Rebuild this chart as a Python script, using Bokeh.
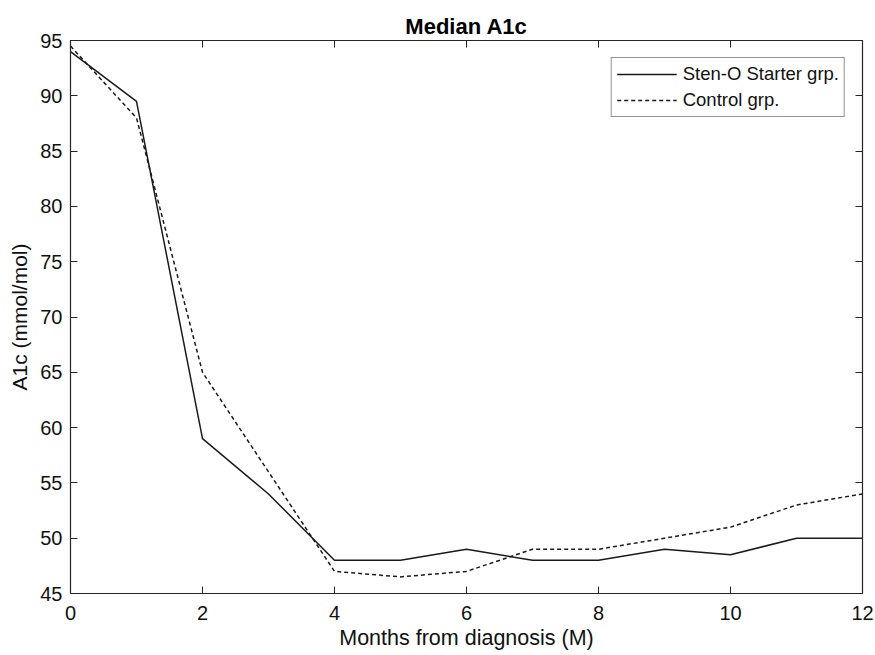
from bokeh.plotting import figure
from bokeh.models import LinearAxis, FixedTicker, Legend, LegendItem, Range1d
from bokeh.embed import file_html
from bokeh.resources import INLINE

months = [0, 1, 2, 3, 4, 5, 6, 7, 8, 9, 10, 11, 12]
sten_o = [94, 89.5, 59, 54, 48, 48, 49, 48, 48, 49, 48.5, 50, 50]
control = [94.5, 88, 65, 56, 47, 46.5, 47, 49, 49, 50, 51, 53, 54]
x_ticks = [0, 2, 4, 6, 8, 10, 12]
y_ticks = [45, 50, 55, 60, 65, 70, 75, 80, 85, 90, 95]

FONT = "Liberation Sans"
AX = "#262626"

p = figure(frame_width=792, frame_height=553, output_backend="svg", toolbar_location=None,
           x_range=Range1d(0, 12), y_range=Range1d(45, 95),
           min_border_left=70, min_border_right=13, min_border_top=40, min_border_bottom=62)
p.title.text = "Median A1c"
p.title.align = "center"
p.title.text_font = FONT
p.title.text_font_size = "22px"
p.title.text_font_style = "bold"
p.title.text_color = "black"
p.title.offset = 0
p.title.standoff = 4

p.grid.visible = False
p.outline_line_color = AX
p.outline_line_width = 1.2

for ax in p.xaxis + p.yaxis:
    ax.major_tick_in = 7
    ax.major_tick_out = 0
    ax.minor_tick_line_color = None
    ax.axis_line_color = AX
    ax.major_tick_line_color = AX
    ax.major_label_text_font = FONT
    ax.major_label_text_font_size = "20px"
    ax.major_label_text_color = "#111111"
    ax.axis_label_text_font = FONT
    ax.axis_label_text_font_style = "normal"
    ax.axis_label_text_color = "#111111"

p.xaxis.ticker = FixedTicker(ticks=x_ticks)
p.yaxis.ticker = FixedTicker(ticks=y_ticks)
p.xaxis.axis_label = "Months from diagnosis (M)"
p.yaxis.axis_label = "A1c (mmol/mol)"
p.xaxis.axis_label_text_font_size = "21.5px"
p.yaxis.axis_label_text_font_size = "21px"
p.xaxis.major_label_standoff = 12
p.xaxis.axis_label_standoff = 3
p.yaxis.major_label_standoff = 8
p.yaxis.axis_label_standoff = 6

top = LinearAxis(ticker=FixedTicker(ticks=x_ticks),
                 major_label_overrides={t: "" for t in x_ticks},
                 major_tick_in=7, major_tick_out=0, minor_tick_line_color=None,
                 axis_line_color=AX, major_tick_line_color=AX, major_label_standoff=0)
right = LinearAxis(ticker=FixedTicker(ticks=y_ticks),
                   major_label_overrides={t: "" for t in y_ticks},
                   major_tick_in=7, major_tick_out=0, minor_tick_line_color=None,
                   axis_line_color=AX, major_tick_line_color=AX, major_label_standoff=0)
p.add_layout(top, "above")
p.add_layout(right, "right")

r1 = p.line(months, sten_o, line_color="#1a1a1a", line_width=1.5)
r2 = p.line(months, control, line_color="#1a1a1a", line_width=1.5, line_dash="4 3")

legend = Legend(items=[LegendItem(label="Sten-O Starter grp.", renderers=[r1]),
                       LegendItem(label="Control grp.", renderers=[r2])],
                location="top_right")
legend.label_text_font = FONT
legend.label_text_font_size = "18.5px"
legend.label_text_color = "#111111"
legend.glyph_width = 60
legend.glyph_height = 22
legend.label_height = 22
legend.spacing = 4
legend.padding = 5
legend.margin = 17
legend.label_standoff = 6
legend.border_line_color = AX
legend.border_line_width = 1.2
legend.background_fill_alpha = 1
p.add_layout(legend, "center")

open("out.html", "w").write(file_html(p, INLINE))
